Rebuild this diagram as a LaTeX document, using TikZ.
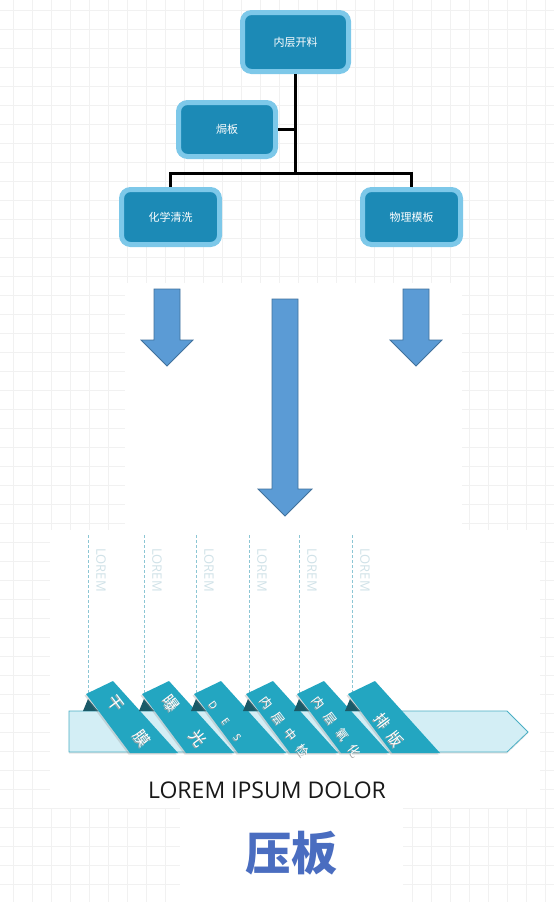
\documentclass[tikz,border=0pt]{standalone}
\usepackage{fontspec}
\setmainfont{Open Sans}
\newfontfamily\cjk{Noto Sans CJK SC}
\usetikzlibrary{shapes.geometric, arrows, shadows}
\definecolor{boxfill}{HTML}{1C8AB6}
\definecolor{boxrim}{HTML}{7DC8E9}
\definecolor{arrowfill}{HTML}{5B9BD5}
\definecolor{arrowrim}{HTML}{41719C}
\definecolor{tabfill}{HTML}{23A6C1}
\definecolor{tabfold}{HTML}{1A5A68}
\definecolor{barfill}{HTML}{D3EEF5}
\definecolor{barrim}{HTML}{4AAFC4}
\definecolor{gridgray}{HTML}{F1F1F1}
\definecolor{guideteal}{HTML}{8CC6D4}
\definecolor{loremgray}{HTML}{D0E2E8}
\definecolor{titleblue}{HTML}{4A6DC0}
\tikzstyle{stage} = [rectangle, rounded corners=9pt, minimum width=98pt, minimum height=55pt, inner sep=0pt, fill=boxfill, draw=boxrim, line width=5pt, text=white, font=\cjk\fontsize{11}{11}\selectfont]
\tikzstyle{link} = [line width=3pt, black]
\tikzstyle{blockarrow} = [fill=arrowfill, draw=arrowrim, line width=0.8pt]
\tikzstyle{tab} = [fill=tabfill, drop shadow={shadow xshift=-1.5pt, shadow yshift=-1.5pt, opacity=0.25}]
\tikzstyle{fold} = [fill=tabfold]
\tikzstyle{guide} = [draw=guideteal, dash pattern=on 3pt off 2pt, line width=0.6pt]
\tikzstyle{lorem} = [text=loremgray, rotate=-90, anchor=west, inner sep=0pt, font=\fontsize{13}{13}\selectfont]
\tikzstyle{tabtext} = [rotate=-53, inner sep=0pt]

\begin{document}
\begin{tikzpicture}[x=1pt, y=-1pt, node distance=87.5pt]
  \useasboundingbox (0,0) rectangle (554,902);
  % background grid
  \foreach \gx in {13,32,...,554} \draw[gridgray, line width=0.7pt] (\gx,0) -- (\gx,902);
  \foreach \gy in {10,29,...,902} \draw[gridgray, line width=0.7pt] (0,\gy) -- (554,\gy);
  \fill[white] (125,283) rectangle (462,530);
  \fill[white] (50,530) rectangle (540,808);
  \fill[white] (180,808) rectangle (403,902);

  % process tree
  \node (cut) [stage, minimum width=106pt, minimum height=59pt] at (295.5,42) {内层开料};
  \node (bake) [stage, below of=cut, xshift=-68.5pt, minimum width=97pt, minimum height=54pt] {焗板};
  \node (chem) [stage, below of=bake, xshift=-56.5pt] {化学清洗};
  \node (phys) [stage, right of=chem, xshift=153.5pt] {物理模板};
  \coordinate (junc) at (cut.south |- 0,173);

  \draw [link] (cut) -- (junc);
  \draw [link] (bake.east) -- (bake.east -| junc);
  \draw [link] (junc) -| (chem.north);
  \draw [link] (junc) -| (phys.north);

  % block arrows
  \foreach \cx/\ya/\yb/\yc/\hw in {167/289/340/366/26, 285/299/489/516/27, 416/289/340/366/26}
    \draw [blockarrow] (\cx-13,\ya) -- (\cx+13,\ya) -- (\cx+13,\yb) -- (\cx+\hw,\yb)
      -- (\cx,\yc) -- (\cx-\hw,\yb) -- (\cx-13,\yb) -- cycle;

  % timeline
  \foreach \gx in {88,144,196,249,299,352} {
    \draw [guide] (\gx,535) -- (\gx,694);
    \node [lorem] at (\gx+13,548) {LOREM};
  }
  \draw [fill=barfill, draw=barrim, line width=0.8pt, drop shadow={shadow xshift=0pt, shadow yshift=-1.5pt, opacity=0.2}]
    (69,711) -- (507,711) -- (528,732) -- (507,752) -- (69,752) -- cycle;
  \foreach \tx in {86,142,194,246,297,348} {
    \fill [fold] (\tx-3,711) -- (\tx+2,699) -- (\tx+12,711) -- cycle;
    \fill [tab] (\tx,694) -- (\tx+27,681) -- (\tx+92,753) -- (\tx+44,753) -- cycle;
  }
  \foreach \dx/\col in {-1/black!35, 0/white} {
    \node [tabtext, text=\col, font=\cjk\fontsize{16}{16}\selectfont] at (129+\dx,721-\dx) {干\hspace{28pt}膜};
    \node [tabtext, text=\col, font=\cjk\fontsize{16}{16}\selectfont] at (184.5+\dx,721-\dx) {曝\hspace{28pt}光};
    \node [tabtext, text=\col, font=\fontsize{10}{10}\selectfont] at (225+\dx,721-\dx) {D\hspace{14pt}E\hspace{14pt}S};
    \node [tabtext, text=\col, font=\cjk\fontsize{12}{12}\selectfont] at (285+\dx,727-\dx) {内\hspace{8pt}层\hspace{8pt}中\hspace{8pt}检};
    \node [tabtext, text=\col, font=\cjk\fontsize{12}{12}\selectfont] at (336.5+\dx,727-\dx) {内\hspace{8pt}层\hspace{8pt}氧\hspace{8pt}化};
    \node [tabtext, text=\col, font=\cjk\fontsize{15}{15}\selectfont] at (389+\dx,730-\dx) {排\hspace{7pt}版};
  }

  % captions
  \node (caption) [text=black!90, font=\fontsize{23}{23}\selectfont] at (267,790) {LOREM IPSUM DOLOR};
  \node (title) [text=titleblue, font=\cjk\bfseries\fontsize{46}{46}\selectfont] at (291,853) {压板};
\end{tikzpicture}
\end{document}
